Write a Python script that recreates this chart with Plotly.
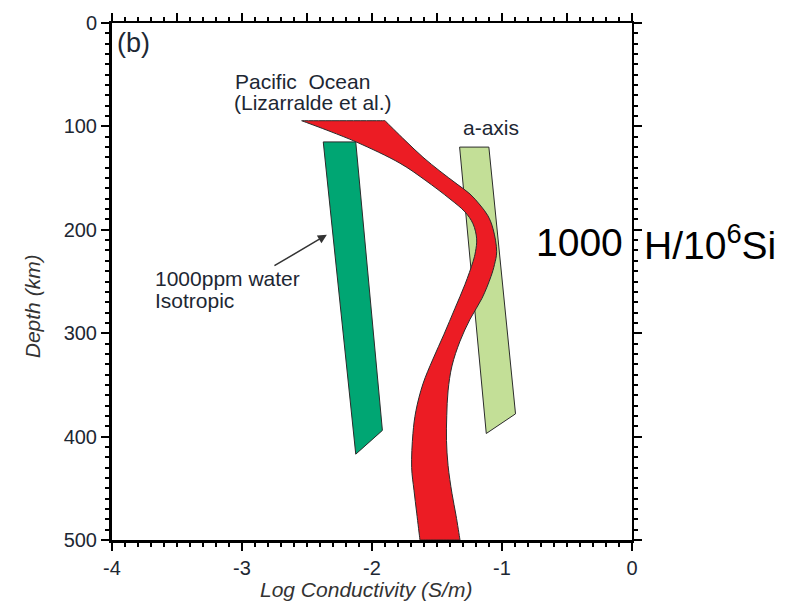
import plotly.graph_objects as go

# Tick values and labels
x_ticks = [-4, -3, -2, -1, 0]
x_tick_text = ["-4", "-3", "-2", "-1", "0"]
x_top_ticks = [-4, -3.5, -3, -2.5, -2, -1.5, -1, -0.5, 0]
y_ticks = [0, 100, 200, 300, 400, 500]

# Pacific Ocean conductivity band (Lizarralde et al.): left and right edges
pacific_left_x = [-2.541, -2.323, -2.115, -1.785, -1.592, -1.400, -1.285, -1.223,
                  -1.195, -1.204, -1.223, -1.285, -1.362, -1.446, -1.531, -1.608,
                  -1.662, -1.685, -1.695, -1.677, -1.656, -1.631]
pacific_left_depth = [94.5, 104.8, 115.4, 135.6, 151.9, 170.2, 182.7, 194.2,
                      208.7, 221.2, 230.8, 252.9, 276.0, 301.0, 325.0, 349.0,
                      375.0, 397.0, 429.8, 451.9, 474.0, 500.0]
pacific_right_x = [-1.900, -1.746, -1.608, -1.477, -1.346, -1.246, -1.169, -1.108,
                   -1.069, -1.041, -1.058, -1.085, -1.154, -1.246, -1.323, -1.385,
                   -1.415, -1.425, -1.427, -1.415, -1.385, -1.354, -1.323]
pacific_right_depth = [94.5, 113.5, 129.8, 143.3, 155.8, 165.4, 176.0, 186.5,
                       199.0, 221.2, 233.7, 245.2, 266.3, 286.5, 307.7, 331.7,
                       355.8, 379.8, 403.8, 427.9, 454.8, 476.0, 500.0]

# 1000 ppm water, isotropic
iso_x = [-2.375, -2.125, -1.92, -2.125]
iso_depth = [115, 115, 394, 417]

# 1000 H/10^6 Si, a-axis
aaxis_x = [-1.326, -1.101, -0.896, -1.121]
aaxis_depth = [120, 120, 378, 397]

FONT = "Liberation Sans"
TXT = "#1d2733"
EDGE = "#2b2b2b"


def sharp_corners(xs, ys, corners, frac=0.03):
    """Add helper vertices right next to the given corner indices so a
    spline outline stays crisp there."""
    n = len(xs) - 1  # closed ring, last point repeats the first
    out_x, out_y = [], []
    for i in range(n):
        if i in corners:
            px, py = xs[i - 1], ys[i - 1]
            nx, ny = xs[(i + 1) % n], ys[(i + 1) % n]
            out_x += [xs[i] + (px - xs[i]) * frac, xs[i], xs[i] + (nx - xs[i]) * frac]
            out_y += [ys[i] + (py - ys[i]) * frac, ys[i], ys[i] + (ny - ys[i]) * frac]
        else:
            out_x.append(xs[i])
            out_y.append(ys[i])
    return out_x + out_x[:1], out_y + out_y[:1]


fig = go.Figure()

fig.add_trace(go.Scatter(
    x=iso_x + iso_x[:1], y=iso_depth + iso_depth[:1],
    fill="toself", fillcolor="#00A673", mode="lines",
    line=dict(color=EDGE, width=1), hoverinfo="skip", showlegend=False))

fig.add_trace(go.Scatter(
    x=aaxis_x + aaxis_x[:1], y=aaxis_depth + aaxis_depth[:1],
    fill="toself", fillcolor="#C3DF97", mode="lines",
    line=dict(color=EDGE, width=1), hoverinfo="skip", showlegend=False))

ring_x = pacific_left_x + pacific_right_x[::-1] + pacific_left_x[:1]
ring_y = pacific_left_depth + pacific_right_depth[::-1] + pacific_left_depth[:1]
nl = len(pacific_left_x)
corner_idx = {0, nl - 1, nl, len(ring_x) - 2}
band_x, band_y = sharp_corners(ring_x, ring_y, corner_idx)
fig.add_trace(go.Scatter(
    x=band_x, y=band_y, fill="toself", fillcolor="#EC1C24", mode="lines",
    line=dict(color=EDGE, width=1, shape="spline", smoothing=1.0),
    hoverinfo="skip", showlegend=False))

# empty trace that keeps the top/right frame axes alive
fig.add_trace(go.Scatter(x=[None], y=[None], xaxis="x2", yaxis="y2",
                         showlegend=False, hoverinfo="skip"))

tick_font = dict(family=FONT, size=20, color=TXT)
common = dict(showgrid=False, zeroline=False, showline=True, linecolor="black",
              ticks="outside", ticklen=8, tickwidth=2, tickcolor="black",
              tickfont=tick_font)
x_minor = dict(dtick=0.1, ticks="outside", ticklen=4, tickwidth=1.5, tickcolor="black")
y_minor = dict(dtick=10, ticks="outside", ticklen=4, tickwidth=1.5, tickcolor="black")

fig.update_layout(
    xaxis=dict(range=[-4, 0], tickvals=x_ticks, ticktext=x_tick_text,
               linewidth=3, minor=x_minor, **common),
    yaxis=dict(range=[500, 0], tickvals=y_ticks, linewidth=3, minor=y_minor, **common),
    xaxis2=dict(range=[-4, 0], tickvals=x_top_ticks, overlaying="x", side="top",
                anchor="y2", showticklabels=False, linewidth=2, minor=x_minor, **common),
    yaxis2=dict(range=[500, 0], tickvals=y_ticks, overlaying="y", side="right",
                anchor="x2", showticklabels=False, linewidth=2, minor=y_minor, **common),
)


def label(text, x, y, size=21, color=TXT, xanchor="left", ref="x", **kw):
    fig.add_annotation(text=text, x=x, y=y, xref=ref, yref="y" if ref == "x" else ref,
                       showarrow=False, xanchor=xanchor, yanchor="middle",
                       font=dict(family=FONT, size=size, color=color), **kw)


label("(b)", -3.975, 19, size=27)
label("Pacific&nbsp; Ocean", -3.069, 56.5)
label("(Lizarralde et al.)", -3.079, 76.5)
label("a-axis", -1.313, 101.5)
label("1000ppm water", -3.681, 247)
label("Isotropic", -3.681, 268)

# water content label on the right of the frame
label("1000", 0.986, 0.576, size=39, color="black", xanchor="right", ref="paper")
label("H/10<sup>6</sup>Si", 1.019, 0.576, size=39, color="black", ref="paper")

# arrow pointing at the isotropic band
fig.add_annotation(x=-2.347, y=204.8, ax=-2.762, ay=235.6, xref="x", yref="y",
                   axref="x", ayref="y", text="", showarrow=True,
                   arrowhead=2, arrowsize=1.2, arrowwidth=1.5, arrowcolor="#333")

# axis titles
fig.add_annotation(text="<i>Log Conductivity (S/m)</i>", x=0.488, y=-0.096,
                   xref="paper", yref="paper", showarrow=False,
                   xanchor="center", yanchor="middle",
                   font=dict(family=FONT, size=21, color="#333"))
fig.add_annotation(text="<i>Depth (km)</i>", x=-0.154, y=274, textangle=-90,
                   xref="paper", yref="y", showarrow=False,
                   xanchor="center", yanchor="middle",
                   font=dict(family=FONT, size=21, color="#333"))

fig.update_layout(
    width=810, height=605,
    margin=dict(l=112, r=178, t=20, b=65),
    plot_bgcolor="white", paper_bgcolor="white",
)

fig.write_html("out.html")
